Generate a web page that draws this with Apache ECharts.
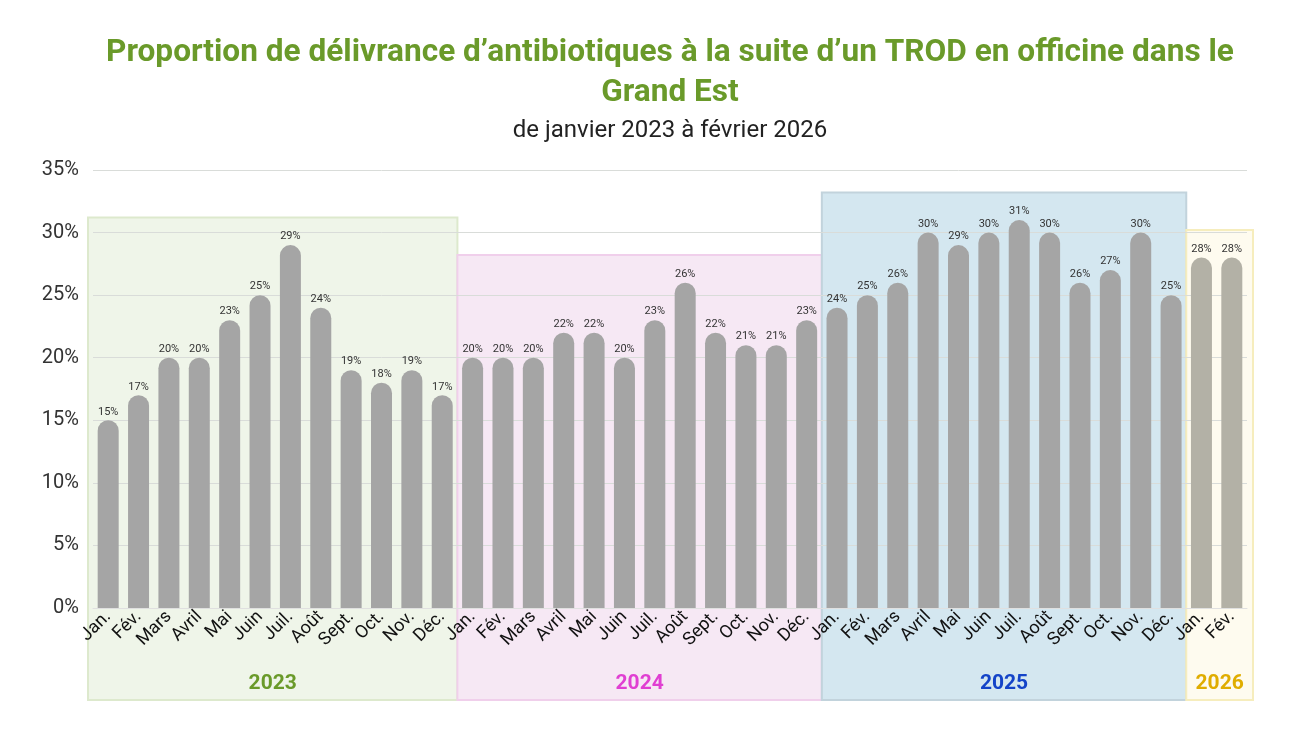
<!DOCTYPE html>
<html>
<head>
<meta charset="utf-8">
<script src="https://cdn.jsdelivr.net/npm/echarts@6/dist/echarts.min.js"></script>
<style>
html, body { margin: 0; padding: 0; background: #fff; }
#container { width: 1300px; height: 731px; }
</style>
</head>
<body>
<div id="container"></div>
<script>
var mois = ['Jan.', 'Fév.', 'Mars', 'Avril', 'Mai', 'Juin', 'Juil.', 'Août', 'Sept.', 'Oct.', 'Nov.', 'Déc.'];
var annees = ['2023', '2024', '2025', '2026'];
var val2023 = [15, 17, 20, 20, 23, 25, 29, 24, 19, 18, 19, 17];
var val2024 = [20, 20, 20, 22, 22, 20, 23, 26, 22, 21, 21, 23];
var val2025 = [24, 25, 26, 30, 29, 30, 31, 30, 26, 27, 30, 25];
var val2026 = [28, 28];
var yTicks = [0, 5, 10, 15, 20, 25, 30, 35];
var titre = 'Proportion de délivrance d\u2019antibiotiques à la suite d\u2019un TROD en officine dans le\nGrand Est';
var sousTitre = 'de janvier 2023 à février 2026';

// couleurs des blocs par année
var blocs = {
    '2023': { fill: '#eff5e9', border: '#dde9cd', text: '#6a9a2a', bar: '#a5a5a5' },
    '2024': { fill: '#f6e8f4', border: '#f0cfeb', text: '#e03fd2', bar: '#a5a5a5' },
    '2025': { fill: '#d4e7f0', border: '#c2d3dc', text: '#1444c8', bar: '#a5a5a5' },
    '2026': { fill: '#fefbef', border: '#f6edbd', text: '#e0ad00', bar: '#b3b1a6' }
};

var parAnnee = [val2023, val2024, val2025, val2026];
var categories = [];
var donnees = [];
parAnnee.forEach(function (vals, i) {
    vals.forEach(function (v, j) {
        categories.push(mois[j] + '|' + annees[i]);
        donnees.push({ value: v, itemStyle: { color: blocs[annees[i]].bar } });
    });
});

var chart = echarts.init(document.getElementById('container'));

var option = {
    animation: false,
    textStyle: { fontFamily: 'Roboto' },
    grid: { left: 93, right: 53, top: 170, bottom: 123, containLabel: false },
    xAxis: {
        type: 'category',
        data: categories,
        axisLine: { show: true, lineStyle: { color: '#e0e0e0' } },
        axisTick: { show: false },
        axisLabel: {
            interval: 0,
            rotate: 45,
            fontSize: 18,
            color: '#111',
            margin: 6,
            formatter: function (v) { return v.split('|')[0]; }
        }
    },
    yAxis: {
        type: 'value',
        min: 0,
        max: yTicks[yTicks.length - 1],
        interval: 5,
        axisLine: { show: false },
        axisTick: { show: false },
        splitLine: { lineStyle: { color: '#d9dcd9' } },
        axisLabel: { fontSize: 20, color: '#333', margin: 14, formatter: '{value}%' }
    },
    series: [{
        type: 'bar',
        data: donnees,
        barWidth: 21,
        itemStyle: { borderRadius: [11, 11, 0, 0] },
        label: {
            show: true,
            position: 'top',
            distance: 3,
            fontSize: 11,
            color: '#333',
            formatter: '{c}%'
        }
    }]
};
chart.setOption(option);

// titres + blocs de fond par année, positionnés via les échelles du graphique
function dessinerBlocs() {
    var graphics = [{
        type: 'text',
        silent: true,
        x: 670,
        y: 33,
        style: {
            text: titre,
            fill: '#6a9a2a',
            font: 'bold 31.6px Roboto',
            lineHeight: 40,
            textAlign: 'center',
            textVerticalAlign: 'top'
        }
    }, {
        type: 'text',
        silent: true,
        x: 670,
        y: 131,
        style: {
            text: sousTitre,
            fill: '#222',
            font: '24px Roboto',
            textAlign: 'center',
            textVerticalAlign: 'middle'
        }
    }];
    var debut = 0;
    var bas = 700;
    parAnnee.forEach(function (vals, i) {
        var fin = debut + vals.length - 1;
        var bande = chart.convertToPixel({ xAxisIndex: 0 }, categories[1]) - chart.convertToPixel({ xAxisIndex: 0 }, categories[0]);
        var x0 = chart.convertToPixel({ xAxisIndex: 0 }, categories[debut]) - bande / 2;
        var x1 = chart.convertToPixel({ xAxisIndex: 0 }, categories[fin]) + bande / 2;
        if (i === 0) x0 -= 5;
        if (i === parAnnee.length - 1) x1 += 6;
        var haut = chart.convertToPixel({ yAxisIndex: 0 }, Math.max.apply(null, vals) + 2.2);
        var b = blocs[annees[i]];
        graphics.push({
            type: 'rect',
            z: -10,
            silent: true,
            shape: { x: x0, y: haut, width: x1 - x0, height: bas - haut },
            style: { fill: b.fill, stroke: b.border, lineWidth: 2 }
        });
        graphics.push({
            type: 'text',
            z: 10,
            silent: true,
            x: (x0 + x1) / 2,
            y: 684,
            style: {
                text: annees[i],
                fill: b.text,
                font: 'bold 21px Roboto',
                textAlign: 'center',
                textVerticalAlign: 'middle'
            }
        });
        debut = fin + 1;
    });
    chart.setOption({ graphic: graphics });
}
dessinerBlocs();
</script>
</body>
</html>
